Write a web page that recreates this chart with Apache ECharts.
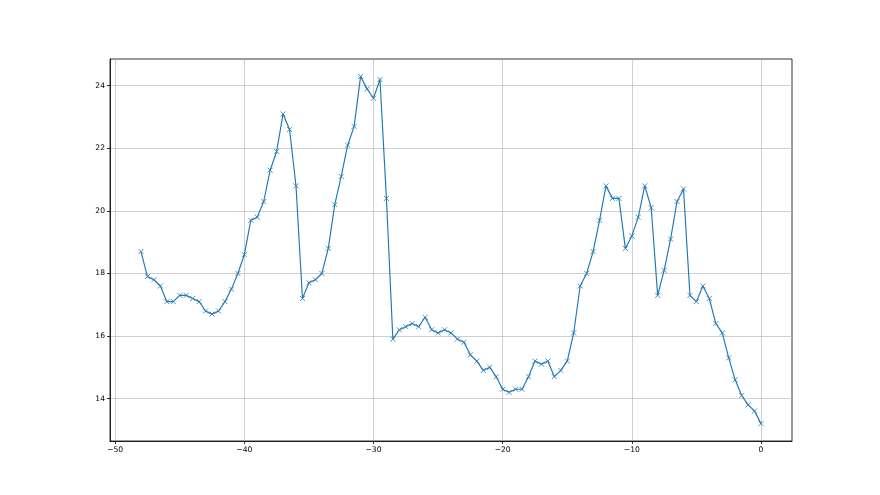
<!DOCTYPE html>
<html>
<head>
<meta charset="utf-8">
<script src="https://cdn.jsdelivr.net/npm/echarts@6/dist/echarts.min.js"></script>
<style>
html,body{margin:0;padding:0;background:#fff;}
#c{width:880px;height:495px;}
</style>
</head>
<body>
<div id="c"></div>
<script>
const xValues = [-48,-47.5,-47,-46.5,-46,-45.5,-45,-44.5,-44,-43.5,-43,-42.5,-42,-41.5,-41,-40.5,-40,-39.5,-39,-38.5,-38,-37.5,-37,-36.5,-36,-35.5,-35,-34.5,-34,-33.5,-33,-32.5,-32,-31.5,-31,-30.5,-30,-29.5,-29,-28.5,-28,-27.5,-27,-26.5,-26,-25.5,-25,-24.5,-24,-23.5,-23,-22.5,-22,-21.5,-21,-20.5,-20,-19.5,-19,-18.5,-18,-17.5,-17,-16.5,-16,-15.5,-15,-14.5,-14,-13.5,-13,-12.5,-12,-11.5,-11,-10.5,-10,-9.5,-9,-8.5,-8,-7.5,-7,-6.5,-6,-5.5,-5,-4.5,-4,-3.5,-3,-2.5,-2,-1.5,-1,-0.5,0];
const yValues = [18.7,17.9,17.8,17.6,17.1,17.1,17.3,17.3,17.2,17.1,16.8,16.7,16.8,17.1,17.5,18.0,18.6,19.7,19.8,20.3,21.3,21.9,23.1,22.6,20.8,17.2,17.7,17.8,18.0,18.8,20.2,21.1,22.1,22.7,24.3,23.9,23.6,24.2,20.4,15.9,16.2,16.3,16.4,16.3,16.6,16.2,16.1,16.2,16.1,15.9,15.8,15.4,15.2,14.9,15.0,14.7,14.3,14.2,14.3,14.3,14.7,15.2,15.1,15.2,14.7,14.9,15.2,16.1,17.6,18.0,18.7,19.7,20.8,20.4,20.4,18.8,19.2,19.8,20.8,20.1,17.3,18.1,19.1,20.3,20.7,17.3,17.1,17.6,17.2,16.4,16.1,15.3,14.6,14.1,13.8,13.6,13.2];
const xTicks = [-50,-40,-30,-20,-10,0];
const yTicks = [14,16,18,20,22,24];

const seriesData = xValues.map((x, i) => [x, yValues[i]]);
const fmt = v => String(v).replace('-', '\u2212');
const labelStyle = {color:'#000', fontFamily:'DejaVu Sans', fontSize:7.6};

const chart = echarts.init(document.getElementById('c'), null, {renderer:'canvas'});
chart.setOption({
  backgroundColor:'#fff',
  animation:false,
  grid:{left:110, right:88, top:59, bottom:54, show:true, borderColor:'#000', borderWidth:0.8, backgroundColor:'transparent'},
  xAxis:{
    type:'value', min:-50.4, max:2.4,
    axisLine:{show:true, onZero:false, lineStyle:{color:'#000', width:0.8}},
    axisTick:{show:true, inside:false, length:3, lineStyle:{color:'#000', width:0.8}, customValues:xTicks},
    axisLabel:Object.assign({margin:5, customValues:xTicks, formatter:fmt}, labelStyle),
    splitLine:{show:true, lineStyle:{color:'#b0b0b0', width:0.6}}
  },
  yAxis:{
    type:'value', min:12.645, max:24.855,
    axisLine:{show:true, onZero:false, lineStyle:{color:'#000', width:0.8}},
    axisTick:{show:true, inside:false, length:3, lineStyle:{color:'#000', width:0.8}, customValues:yTicks},
    axisLabel:Object.assign({margin:5, customValues:yTicks, formatter:fmt}, labelStyle),
    splitLine:{show:true, lineStyle:{color:'#b0b0b0', width:0.6}}
  },
  series:[{
    type:'line',
    data:seriesData,
    showAllSymbol:true,
    symbol:'path://M0,0L10,10M10,0L0,10',
    symbolSize:5,
    lineStyle:{color:'#1f77b4', width:1.15},
    itemStyle:{color:'#1f77b4', borderColor:'#1f77b4', borderWidth:0.8},
    emphasis:{disabled:true}
  }]
});
</script>
</body>
</html>
